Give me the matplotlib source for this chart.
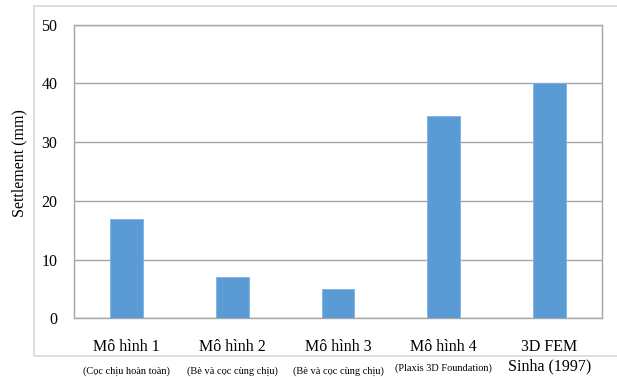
import matplotlib
matplotlib.use("Agg")
import matplotlib.pyplot as plt
from matplotlib.patches import Rectangle
from matplotlib.transforms import blended_transform_factory

plt.rcParams['font.family'] = ['Liberation Serif', 'DejaVu Serif']

models = ["Mô hình 1", "Mô hình 2", "Mô hình 3", "Mô hình 4", "3D FEM"]
notes = ["(Cọc chịu hoàn toàn)", "(Bè và cọc cùng chịu)", "(Bè và cọc cùng chịu)",
         "(Plaxis 3D Foundation)", "Sinha (1997)"]
settlement_mm = [17, 7, 5, 34.5, 40]
y_ticks = [0, 10, 20, 30, 40, 50]

fig = plt.figure(figsize=(6.17, 3.77), dpi=100)

# light outer chart frame
frame = Rectangle((0.0551, 0.0557), 1.0, 0.9272, transform=fig.transFigure,
                  fill=False, edgecolor="#d9d9d9", linewidth=1.2, zorder=0)
fig.patches.append(frame)

ax = fig.add_axes([0.1199, 0.1552, 0.8558, 0.7798])
x = list(range(len(models)))
ax.bar(x, settlement_mm, width=0.31, color="#5b9bd5", edgecolor="#7fb2e0",
       linewidth=0.6, zorder=3)

ax.set_xlim(-0.5, len(models) - 0.5)
ax.set_ylim(0, 50)
ax.set_yticks(y_ticks)
ax.yaxis.grid(True, color="#a6a6a6", linewidth=1.0, zorder=0)
for s in ax.spines.values():
    s.set_color("#a6a6a6")
    s.set_linewidth(1.0)

ax.set_xticks(x)
ax.set_xticklabels(models, fontsize=11.5)
ax.tick_params(axis="x", length=0, pad=15)
ax.tick_params(axis="y", length=0, pad=12, labelsize=11.5)

ax.set_ylabel("Settlement (mm)", fontsize=11.5)
ax.yaxis.set_label_coords(-0.088, 0.53)

trans = blended_transform_factory(ax.transData, ax.transAxes)
for i, note in enumerate(notes):
    if i == len(notes) - 1:
        ax.text(i, -0.162, note, transform=trans, ha="center", va="center",
                fontsize=11.5, clip_on=False)
    elif i == 3:
        ax.text(i, -0.168, note, transform=trans, ha="center", va="center",
                fontsize=7.5, clip_on=False)
    else:
        ax.text(i, -0.178, note, transform=trans, ha="center", va="center",
                fontsize=7.5, clip_on=False)

fig.savefig("out.png", dpi=100)
